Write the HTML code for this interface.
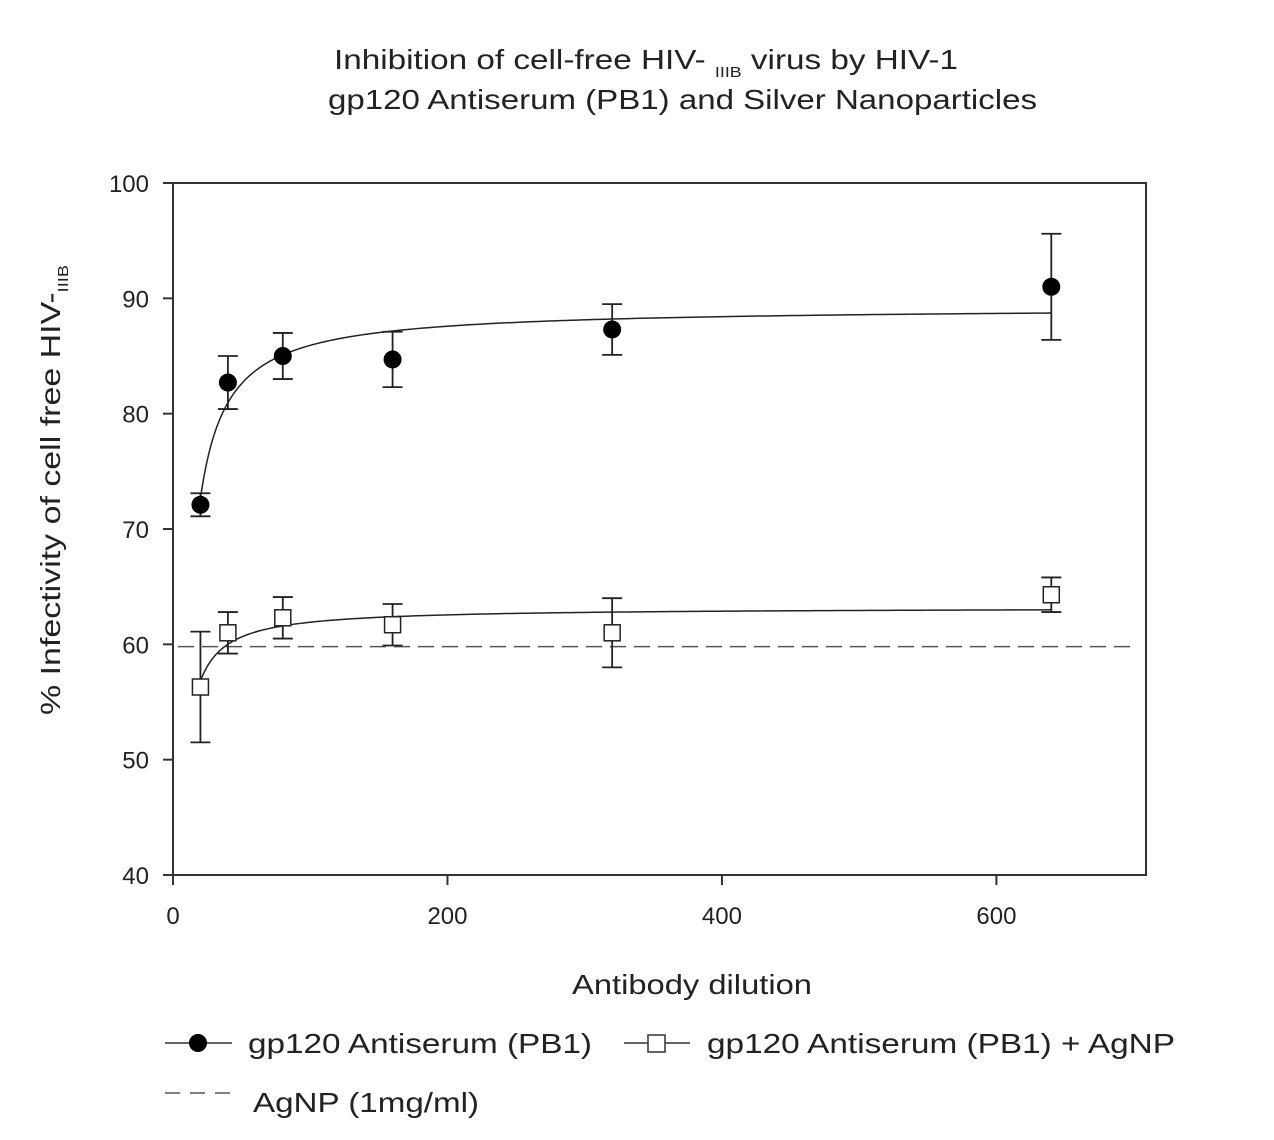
<!DOCTYPE html>
<html><head><meta charset="utf-8"><style>
html,body{margin:0;padding:0;background:#fff;}
svg{display:block;font-family:"Liberation Sans",sans-serif;}
</style></head><body>
<svg id="chart" width="1274" height="1140" viewBox="0 0 1274 1140" xmlns="http://www.w3.org/2000/svg">
<g font-size="28" fill="#222">
<text x="334" y="69" textLength="624" lengthAdjust="spacingAndGlyphs">Inhibition of cell-free HIV- <tspan font-size="15" dy="8">IIIB</tspan><tspan dy="-8"> virus by HIV-1</tspan></text>
<text x="328" y="109" textLength="709" lengthAdjust="spacingAndGlyphs">gp120 Antiserum (PB1) and Silver Nanoparticles</text>
</g>
<rect x="173" y="183" width="973" height="692" fill="none" stroke="#333" stroke-width="2"/>
<g id="xticks"></g>
<g id="yticks"></g>
<g id="series"></g>
<text x="572" y="994" font-size="28" fill="#222" textLength="240" lengthAdjust="spacingAndGlyphs">Antibody dilution</text>
<text transform="translate(60,715) rotate(-90)" font-size="28" fill="#222" textLength="450" lengthAdjust="spacingAndGlyphs">%  Infectivity of cell free HIV-<tspan font-size="15" dy="8">IIIB</tspan></text>
<g font-size="28" fill="#222">
<g>
<line x1="165" y1="1043" x2="232" y2="1043" stroke="#333" stroke-width="1.5"/>
<circle cx="198" cy="1043" r="9" fill="#000"/>
<text x="248" y="1053" textLength="344" lengthAdjust="spacingAndGlyphs">gp120 Antiserum (PB1)</text></g>
<g>
<line x1="624" y1="1043" x2="690" y2="1043" stroke="#333" stroke-width="1.5"/>
<rect x="648" y="1035" width="17" height="17" fill="#fff" stroke="#333" stroke-width="1.5"/>
<text x="707" y="1053" textLength="468" lengthAdjust="spacingAndGlyphs">gp120 Antiserum (PB1) + AgNP</text></g>
<g>
<line x1="165" y1="1093" x2="232" y2="1093" stroke="#555" stroke-width="1.5" stroke-dasharray="15,10"/>
<text x="253" y="1112" textLength="226" lengthAdjust="spacingAndGlyphs">AgNP (1mg/ml)</text></g>
</g>
</svg>
<script>
const dilutions = [20, 40, 80, 160, 320, 640];
const antiserum = [72.1, 82.7, 85.0, 84.7, 87.3, 91.0];
const antiserumErr = [1.0, 2.3, 2.0, 2.4, 2.2, 4.6];
const antiserumAgNP = [56.3, 61.0, 62.3, 61.7, 61.0, 64.3];
const antiserumAgNPErr = [4.8, 1.8, 1.8, 1.8, 3.0, 1.5];
const agnpLevel = [59.8];
const xTicks = [0, 200, 400, 600];
const yTicks = [40, 50, 60, 70, 80, 90, 100];

const NS = "http://www.w3.org/2000/svg";
const X0 = 173, X1 = 1146, Y0 = 875, Y1 = 183, XMAX = 709, YMIN = 40, YMAX = 100;
function sx(v){ return X0 + (v / XMAX) * (X1 - X0); }
function sy(v){ return Y0 - (v - YMIN) / (YMAX - YMIN) * (Y0 - Y1); }
function mk(tag, attrs, parent){ const e = document.createElementNS(NS, tag); for (const k in attrs) e.setAttribute(k, attrs[k]); parent.appendChild(e); return e; }

const xg = document.getElementById('xticks');
xTicks.forEach(t => {
  const l = mk('line', {x1: sx(t), x2: sx(t), y1: Y0, y2: Y0 + 10, stroke: '#333', 'stroke-width': 2}, xg);
  
  
  const tx = mk('text', {x: sx(t), y: Y0 + 49, 'font-size': 24, fill: '#222', 'text-anchor': 'middle'}, xg);
  tx.textContent = t;
  
  
});
const yg = document.getElementById('yticks');
yTicks.forEach(t => {
  const l = mk('line', {x1: X0 - 10, x2: X0, y1: sy(t), y2: sy(t), stroke: '#333', 'stroke-width': 2}, yg);
  
  
  const tx = mk('text', {x: X0 - 24, y: sy(t) + 9, 'font-size': 24, fill: '#222', 'text-anchor': 'end'}, yg);
  tx.textContent = t;
  
  
});

const sg = document.getElementById('series');
const ag = mk('line', {x1: X0 + 5, x2: X1 - 10, y1: sy(agnpLevel[0]), y2: sy(agnpLevel[0]), stroke: '#555', 'stroke-width': 1.5, 'stroke-dasharray': '16,8'}, sg);



function fit(xs, ys){
  const u = xs.map(x => 1 / x), n = xs.length;
  const mu = u.reduce((a,b)=>a+b)/n, my = ys.reduce((a,b)=>a+b)/n;
  let num = 0, den = 0;
  for (let i = 0; i < n; i++){ num += (u[i]-mu)*(ys[i]-my); den += (u[i]-mu)*(u[i]-mu); }
  const s = num / den; return {A: my - s * mu, B: -s};
}
function drawCurve(ys, name){
  const f = fit(dilutions, ys);
  const lo = dilutions[0], hi = dilutions[dilutions.length - 1];
  let d = '';
  for (let i = 0; i <= 200; i++){
    const x = lo + (hi - lo) * Math.pow(i / 200, 2);
    const y = f.A - f.B / x;
    d += (i ? 'L' : 'M') + sx(x).toFixed(2) + ',' + sy(y).toFixed(2);
  }
  const p = mk('path', {d: d, fill: 'none', stroke: '#222', 'stroke-width': 1.5}, sg);
  
  
}
function drawErr(vals, errs, name){
  dilutions.forEach((x, i) => {
    const cx = sx(x), top = sy(vals[i] + errs[i]), bot = sy(vals[i] - errs[i]);
    const p = mk('path', {d: `M${cx},${top}V${bot}M${cx-10},${top}H${cx+10}M${cx-10},${bot}H${cx+10}`, stroke: '#222', 'stroke-width': 1.8, fill: 'none'}, sg);
    
    
  });
}
drawCurve(antiserum, 'antiserum-fit-curve');
drawCurve(antiserumAgNP, 'antiserum-agnp-fit-curve');
drawErr(antiserum, antiserumErr, 'antiserum-error-bar');
drawErr(antiserumAgNP, antiserumAgNPErr, 'antiserum-agnp-error-bar');
dilutions.forEach((x, i) => {
  const c = mk('circle', {cx: sx(x), cy: sy(antiserum[i]), r: 9, fill: '#000'}, sg);
  
  
  const r = mk('rect', {x: sx(x) - 8, y: sy(antiserumAgNP[i]) - 8, width: 16, height: 16, fill: '#fff', stroke: '#222', 'stroke-width': 1.5}, sg);
  
  
});
</script>
</body></html>
